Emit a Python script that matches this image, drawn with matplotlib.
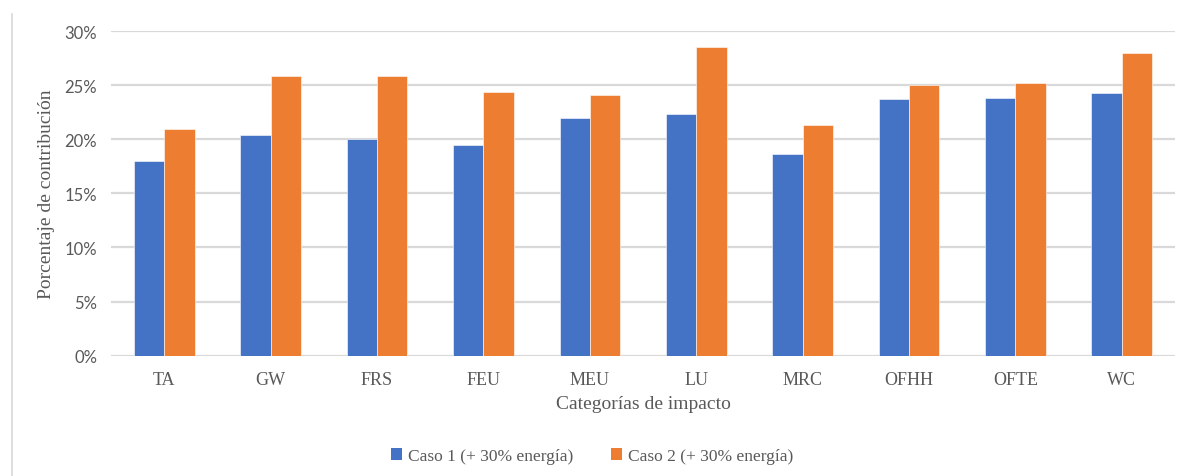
import matplotlib

matplotlib.use("Agg")

import matplotlib.pyplot as plt
import numpy as np
from matplotlib.lines import Line2D
from matplotlib.patches import Patch
from matplotlib.ticker import FuncFormatter, MultipleLocator

CATEGORIES = ["TA", "GW", "FRS", "FEU", "MEU", "LU", "MRC", "OFHH", "OFTE", "WC"]
CASO_1 = [18.0, 20.4, 20.0, 19.5, 22.0, 22.3, 18.6, 23.7, 23.8, 24.25]
CASO_2 = [20.9, 25.8, 25.8, 24.4, 24.1, 28.5, 21.35, 25.0, 25.2, 28.0]
SERIES_LABELS = ["Caso 1 (+ 30% energía)", "Caso 2 (+ 30% energía)"]

BLUE = "#4472C4"
ORANGE = "#ED7D31"
GRID = "#D9D9D9"
TEXT = "#595959"
SERIF = "Liberation Serif"


def main() -> None:
    fig = plt.figure(figsize=(11.84, 4.77), dpi=100)
    ax = fig.add_axes([0.0938, 0.2522, 0.8986, 0.6807])

    x = np.arange(len(CATEGORIES))
    width = 0.285
    ax.bar(x - width / 2, CASO_1, width, color=BLUE, edgecolor="white",
           linewidth=0.4, zorder=3)
    ax.bar(x + width / 2, CASO_2, width, color=ORANGE, edgecolor="white",
           linewidth=0.4, zorder=3)

    ax.set_xlim(-0.5, len(CATEGORIES) - 0.5)
    ax.set_ylim(0, 30)
    ax.yaxis.set_major_locator(MultipleLocator(5))
    ax.yaxis.set_major_formatter(FuncFormatter(lambda v, _: f"{v:.0f}%"))
    ax.grid(axis="y", color=GRID, linewidth=1.6, zorder=0)
    for side in ["top", "right", "left", "bottom"]:
        ax.spines[side].set_visible(False)
    ax.tick_params(length=0)
    ax.tick_params(axis="y", pad=10, labelsize=12, labelcolor=TEXT)
    ax.tick_params(axis="x", pad=11, labelsize=13, labelcolor=TEXT)
    for lbl in ax.get_yticklabels():
        lbl.set_family("Lato")

    ax.set_xticks(x)
    ax.set_xticklabels(CATEGORIES, family=SERIF)
    ax.set_xlabel("Categorías de impacto", family=SERIF, fontsize=14,
                  color=TEXT, labelpad=5)
    ax.set_ylabel("Porcentaje de contribución", family=SERIF, fontsize=14,
                  color=TEXT, labelpad=7)

    handles = [Patch(facecolor=BLUE), Patch(facecolor=ORANGE)]
    fig.legend(handles, SERIES_LABELS, loc="center", ncol=2,
               bbox_to_anchor=(0.5, 1 - 457 / 477), frameon=False,
               handlelength=0.65, handleheight=0.65, handletextpad=0.3,
               columnspacing=2.2, prop={"family": SERIF, "size": 12.5},
               labelcolor=TEXT)

    # light frame edge on the left side of the chart area
    fig.add_artist(Line2D([11.5 / 1184, 11.5 / 1184], [0, 1 - 15 / 477],
                          transform=fig.transFigure, color=GRID, linewidth=1.2))

    fig.savefig("out.png", dpi=100, facecolor="white")
    plt.close(fig)


if __name__ == "__main__":
    main()
